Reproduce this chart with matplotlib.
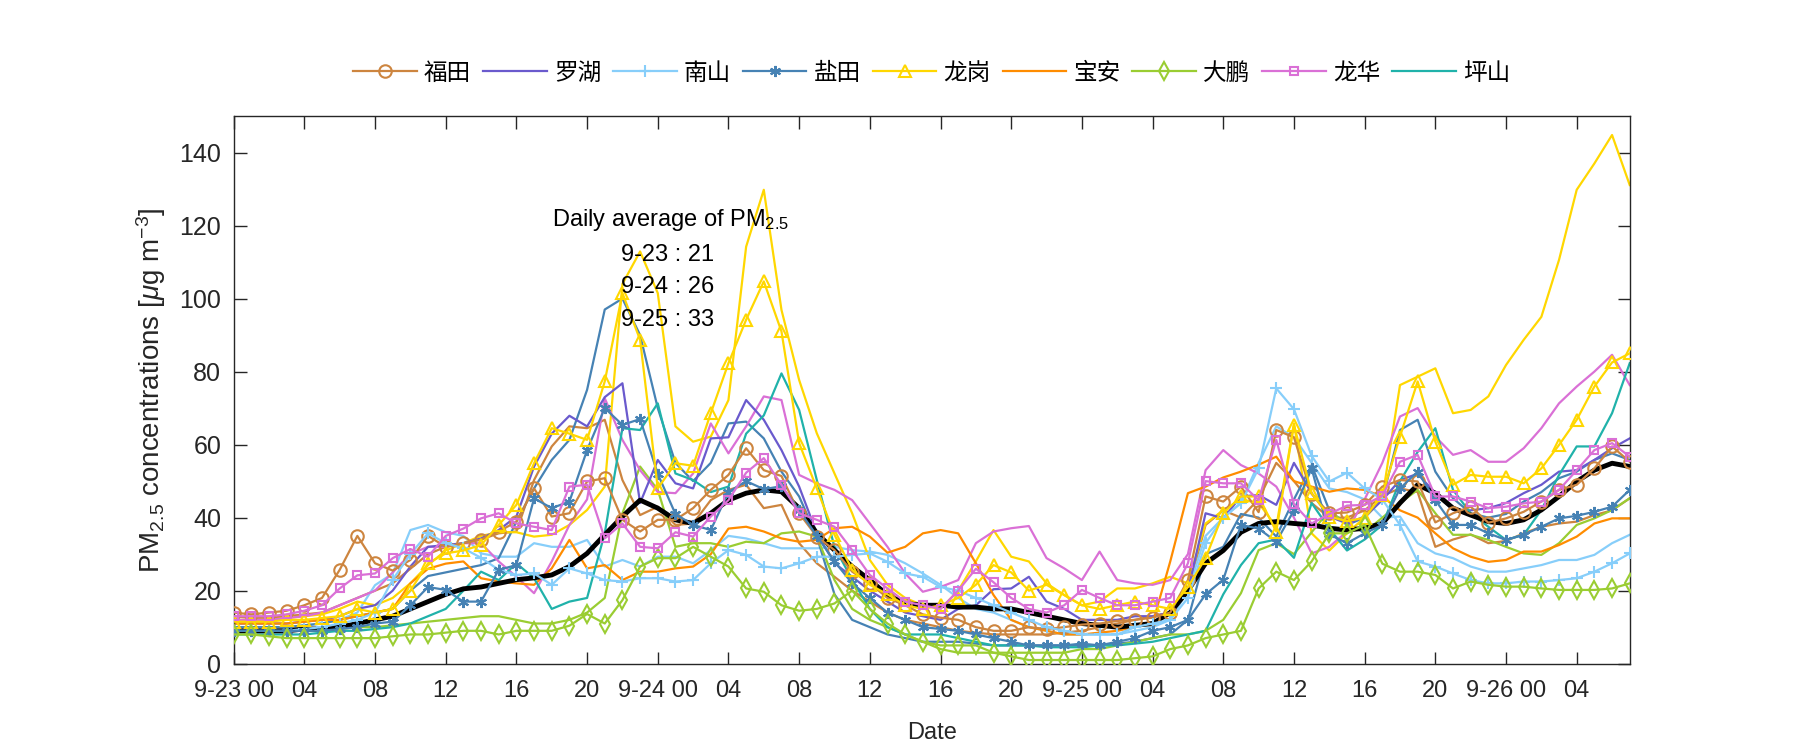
import matplotlib
matplotlib.use('Agg')
import matplotlib.pyplot as plt
import numpy as np

plt.rcParams['font.family'] = ['Liberation Sans', 'Noto Sans CJK SC']
plt.rcParams['mathtext.fontset'] = 'custom'
plt.rcParams['mathtext.rm'] = 'Liberation Sans'
plt.rcParams['mathtext.it'] = 'Liberation Sans:italic'

hours = np.arange(80)

# hourly PM2.5, 9-23 00 .. 9-26 07
avg = [9, 9, 9, 9, 9.5, 9.5, 10, 11, 12, 13,
       15, 17, 19, 20.5, 21, 22, 23, 23.5, 24.3, 26.6,
       30.2, 35.3, 40.3, 44.8, 42.6, 39.4, 38.4, 41.2, 44.8, 46.7,
       47.6, 47.1, 42.6, 35.7, 31.1, 26.6, 22.9, 18.8, 16.5, 16,
       16, 15.5, 15.5, 15, 15, 14, 13, 12, 11, 10.5,
       10, 10.5, 11, 14, 20, 27.5, 31, 36, 38.4, 38.9,
       38.4, 38, 37.1, 36.6, 37.1, 38.4, 44, 49, 46.7, 42.6,
       40.7, 38.9, 38.4, 39.4, 42.1, 45.8, 49.9, 53, 54.9, 54]

futian = [14, 13.5, 14, 14.5, 16, 18, 25.7, 35, 27.5, 25.5,
          28.4, 35, 32, 33, 34, 36.2, 38.9, 48, 40.3, 41.2,
          49.9, 50.8, 39.4, 36.2, 39.4, 39.4, 42.6, 47.6, 51.7, 59,
          53, 51.4, 41.2, 34.8, 31.1, 25.2, 22, 18, 16, 13.5,
          12.6, 12, 10, 9, 9, 10, 9.5, 10, 10.7, 11,
          11.7, 12, 12.6, 14, 22.9, 45.8, 44.4, 48.5, 41.5, 64,
          62, 46.5, 41.2, 41.4, 43.5, 48.5, 50.3, 49.9, 38.7, 41.2,
          43, 38.6, 39.8, 41.6, 44.4, 47.6, 49, 53.5, 59.5, 55.3]
futian_2 = [13, 12.5, 12.5, 13, 13.5, 14, 16, 18, 20, 22,
            26, 30, 32, 33, 34, 35.7, 36.2, 50.3, 59.5, 65,
            64.5, 66.8, 50.3, 40.7, 43, 38, 38.4, 44.8, 47.6, 49,
            42.6, 43.5, 33, 27.5, 23.8, 20, 17, 14, 12, 11,
            10, 9, 8.5, 8, 8, 8, 8, 8.5, 9, 10,
            11, 12, 13, 14, 20, 38, 42, 40, 45, 55,
            50, 44, 40, 40, 42, 46, 48, 47, 32, 34,
            35.4, 33, 33.6, 35.7, 37.5, 38.4, 38.9, 40.7, 42, 45.3]
luohu = [11, 11, 11, 11, 11.5, 12, 13, 15, 16, 20,
         26.6, 32, 32.5, 33, 34.3, 36.6, 40.3, 54, 63, 67.9,
         65, 73, 76.8, 44, 55.8, 49.4, 48, 61.7, 62, 72.2,
         66.8, 58.5, 48.5, 35.7, 27.5, 23.8, 20, 17, 14, 13,
         12, 15, 16, 20.4, 20.6, 23.8, 17, 15, 12, 12,
         12, 13, 13, 14, 20, 41.2, 39.8, 45.8, 46.2, 43.5,
         55, 46.7, 40.3, 38.4, 40.3, 44.8, 50.3, 52, 46.7, 42.1,
         42, 42.6, 44, 46.7, 49, 52.6, 53, 55.8, 59, 61.7]
nanshan = [9, 9, 9, 9, 9.5, 10, 11, 12, 14, 23,
           30, 35.7, 33, 31.6, 29, 25.7, 24.3, 24.7, 21.6, 26.1,
           24.7, 22.9, 22.5, 23.4, 23.4, 22.5, 22.9, 27.5, 31.1, 29.8,
           26.6, 26.1, 27.5, 29.3, 29.3, 29.8, 30.2, 27.9, 24.7, 23.8,
           21, 20, 18, 16, 14, 12, 10, 9, 8, 8,
           8, 10, 11, 12, 18, 33, 40, 44, 53.5, 75.4,
           69.7, 56.9, 49.9, 52.3, 48, 45, 38, 28, 26.6, 24.7,
           22.9, 22, 22, 22.5, 22.5, 22.9, 23.4, 25.2, 27.5, 30.2]
nanshan_2 = [10, 10, 10, 10, 10.5, 11, 12, 14, 21.5, 24.7,
             36.6, 38, 36, 35, 30.2, 29.3, 29.3, 33, 32, 32,
             33.9, 26.6, 28.4, 26.6, 29.3, 29.3, 27.5, 31.1, 35, 34.3,
             33, 31.6, 31.6, 31.6, 32, 31.1, 30.7, 29.8, 27.5, 24.7,
             21.6, 18, 15, 14, 12, 10, 9, 8, 8, 8,
             8, 9, 10, 12, 20, 35, 40, 44, 55, 65,
             62, 55, 48, 47, 45, 40, 40.3, 33, 30.2, 28.9,
             26.6, 25.2, 25.2, 26.1, 27, 28.4, 28.4, 29.8, 33, 35.3]
yantian = [9, 9, 9, 9, 9, 9, 9.5, 10, 11, 11.5,
           16, 21, 20.2, 17, 17, 25.7, 27, 45.3, 42.6, 44.4,
           58.5, 70, 65.4, 67, 52, 41, 38, 36.6, 47, 50,
           47.8, 48.6, 42, 35, 28, 22, 18, 14, 12, 10,
           9.5, 9, 8, 7, 6, 5, 5, 5, 5.5, 5,
           6, 7, 9, 10, 12, 19, 23, 38, 37, 33.4,
           42, 53.5, 35.4, 33, 35.7, 38, 48, 52.6, 44.8, 38,
           38, 35.7, 33.9, 35.3, 37.5, 39.8, 40.5, 41.6, 43, 47.6]
yantian_2 = [10, 10, 10, 10, 10.5, 11, 12, 13, 14, 15,
             20, 24, 25, 26, 27, 28.9, 38.9, 48, 55.8, 61.3,
             75, 97, 100, 90, 70, 55, 50, 55, 65.8, 66.3,
             61.7, 52.6, 45.8, 34.8, 19, 12, 10, 8, 7, 6,
             6, 6, 5.5, 5, 5, 5, 5, 5, 5, 5,
             5.5, 6, 7, 8, 12, 30, 32, 41, 40, 34.8,
             45, 54.4, 42, 38, 40, 45, 64, 66.8, 52.6, 45.3,
             41.2, 40, 41, 44.4, 47, 50.8, 52.6, 55.8, 57.6, 55.8]
longgang = [11.5, 11.5, 11.5, 12, 12, 12.5, 13, 15, 14, 15,
            20, 27.5, 30.2, 31, 32.5, 38, 43.5, 54.9, 64.5, 63,
            61.3, 77.3, 101.5, 88.7, 48, 54.9, 54.2, 68.6, 82.3, 94.2,
            104.7, 91, 60.4, 48, 35.3, 25.7, 21.6, 19, 16, 15,
            16, 18, 21.6, 27, 25, 20, 21.6, 18.8, 16, 15,
            16, 17, 16, 15, 21, 28.9, 41.2, 45.8, 45.8, 36.2,
            65.4, 46.7, 40.3, 39, 40, 46.2, 62.2, 77.3, 60.8, 49,
            51.7, 51.2, 51.2, 49.4, 53.5, 59.9, 66.8, 75.9, 82.5, 85]
longgang_2 = [12, 12, 12, 12.5, 13, 13.5, 15, 17, 16, 18,
              22, 27, 31, 33, 35, 36, 36, 34.8, 35.3, 38,
              42.1, 48.5, 104, 112.9, 101.5, 65, 60.8, 62.2, 72.2, 114.2,
              129.8, 96.9, 77.7, 63.1, 52.1, 41.2, 28.4, 21.6, 18, 16,
              15, 20, 28, 36.6, 29.3, 28, 22, 18.8, 16, 17,
              20.6, 20.6, 22, 23.8, 22, 38.4, 42, 45, 44, 37.5,
              65.8, 35.7, 31, 35.7, 40, 45.3, 76.3, 78.6, 80.9, 68.6,
              69.5, 73.2, 81.8, 88.7, 95, 110.6, 129.8, 137, 144.8, 131.1]
baoan = [11, 11, 11, 11, 11.5, 12, 12, 13, 14, 15,
         22, 26, 27.4, 28, 23.4, 22.5, 22, 21.6, 26.1, 33.9,
         26.1, 27, 22.9, 25.2, 25.2, 26.1, 26.6, 30, 37, 37.5,
         36.2, 34.3, 33.4, 33.9, 37.1, 37.5, 34.8, 30.4, 32, 35.7,
         36.6, 35.7, 27.5, 18.8, 12, 10, 9, 8, 8, 8.5,
         9, 10, 11, 28, 46.7, 48.5, 51, 52.6, 54.5, 56.7,
         50, 48.5, 47.1, 48, 47.6, 45.8, 42, 40, 35.7, 31.6,
         29.3, 27.9, 28.4, 30.7, 30.7, 32.5, 34.8, 38.4, 39.8, 39.8]
dapeng = [8, 8, 7.5, 7, 7, 7, 7, 7, 7, 7.5,
          8, 8, 8.5, 9, 9, 8, 9, 9, 9, 10.4,
          13.6, 11, 17.4, 26.6, 28.9, 28.9, 32, 29.3, 26.6, 20.6,
          19.7, 16, 14.5, 15, 16.5, 20, 15, 11, 8, 6,
          5, 5, 5, 3, 2, 1, 1, 1, 1, 1,
          1, 1.5, 2, 4, 5, 7, 8, 9, 20.6, 25.2,
          22.9, 28, 35.7, 35.7, 38, 27.4, 25.2, 25.2, 24.3, 20.6,
          22.5, 21.6, 21.1, 21.1, 20.6, 20.2, 20.2, 20.2, 20.6, 22]
dapeng_2 = [9, 9, 9, 9, 9, 9, 9.5, 10, 10, 10.5,
            11, 11.5, 12, 12.5, 13, 13, 12, 11, 11, 12,
            14, 18, 41.2, 54, 47.6, 32, 33, 33, 32, 33.4,
            33, 35.7, 36.2, 34.8, 22.9, 15, 12, 10, 8, 6,
            4, 3, 3, 3, 3, 3, 3, 3, 4, 4,
            5, 6, 7, 8, 8, 9, 12, 19.3, 31.1, 33,
            30, 36, 42, 38, 36, 40, 44, 47.6, 41.2, 35.3,
            35.3, 33.9, 32, 30.2, 29.8, 33, 38, 39.8, 42.1, 45.3]
longhua = [13, 13, 13, 13.5, 14.5, 16, 20.6, 24.2, 24.7, 28.9,
           31.4, 29.3, 35, 37, 39.8, 41.2, 38.4, 37.5, 36.6, 48.5,
           49, 34.3, 38.4, 32, 31.6, 36, 34.8, 40.3, 44.8, 52.3,
           56.3, 49, 41.2, 39.4, 37.5, 31.1, 24.3, 20.6, 17, 16,
           15, 20, 26, 22.3, 18, 15, 14, 16, 20.2, 18,
           16, 16, 17, 18, 27.5, 50, 49.4, 49.4, 44.8, 61.3,
           43.7, 38.4, 41, 43.3, 43.5, 46, 55.3, 57.2, 45.8, 45.8,
           44.4, 42.6, 43, 43.9, 44.4, 47.6, 53, 58.5, 60.4, 56.7]
longhua_2 = [12, 12, 12, 12.5, 13, 14, 16, 18, 20, 25,
             30, 32, 32, 33, 33, 28, 23.8, 19.3, 28, 38,
             45, 72.7, 61.3, 53, 47, 46.7, 52.1, 65.8, 57.6, 65,
             73.2, 72.2, 51.7, 49.4, 47.6, 44.8, 38.4, 32, 24.7, 19.7,
             21, 22.9, 33, 36.2, 37.1, 37.7, 28.9, 26.1, 22.9, 30.7,
             22.9, 22, 21.6, 22.9, 30, 53, 58.5, 54.4, 52.1, 48.5,
             40, 30.2, 32, 36.2, 45, 55, 67.7, 70, 62.2, 57.2,
             58.5, 55.3, 55.3, 59, 64.5, 71.3, 75.9, 80, 84.6, 76.3]
pingshan = [8, 8, 8, 8, 8, 8.5, 9, 9, 9.5, 10,
            11, 13, 15, 20, 25.2, 22.9, 27.5, 23.4, 15, 17,
            18, 35.7, 64.5, 64, 71.3, 52.1, 50.3, 47, 48.5, 63,
            68, 79.5, 69.5, 50.3, 32, 23, 15, 10, 8, 8,
            8, 7, 6, 5, 5, 5, 4.5, 4.5, 4.5, 5,
            5, 5.5, 6, 7, 8, 9, 19, 27, 33, 34,
            29, 44, 37, 31, 34, 38, 50, 58, 64.5, 47.6,
            41.2, 37.5, 33.9, 35.3, 42.1, 51.7, 59.5, 59.5, 68.6, 82.3]

names = ['福田', '罗湖', '南山', '盐田', '龙岗', '宝安', '大鹏', '龙华', '坪山']
colors = ['#CD853F', '#6A5ACD', '#87CEFA', '#4682B4', '#FFD700',
          '#FF8C00', '#9ACD32', '#DA70D6', '#20B2AA']
main_series = [futian, luohu, nanshan, yantian, longgang, baoan, dapeng, longhua, pingshan]
second_series = [futian_2, None, nanshan_2, yantian_2, longgang_2, None, dapeng_2, longhua_2, None]
markers = ['o', None, '+', (6, 2, 0), '^', None, 'd', 's', None]
msizes = [9, 0, 8, 8, 9, 0, 9, 6, 0]

daily = ['9-23 : 21', '9-24 : 26', '9-25 : 33']

fig = plt.figure(figsize=(18, 7.5), dpi=100)
ax = fig.add_axes([0.1298, 0.1151, 0.7756, 0.7302])

# plain companion lines first
for s2, c in zip(second_series, colors):
    if s2 is not None:
        ax.plot(hours, s2, color=c, lw=1.6, zorder=2)

ax.plot(hours, avg, color='black', lw=3.5, zorder=2.5)

handles = []
for name, s, c, m, ms in zip(names, main_series, colors, markers, msizes):
    if m is None:
        h, = ax.plot(hours, s, color=c, lw=1.6, zorder=2, label=name)
    else:
        h, = ax.plot(hours, s, color=c, lw=1.6, marker=m, ms=ms, mfc='none',
                     mec=c, mew=1.5, zorder=3, label=name)
    handles.append(h)

ax.set_xlim(0, 79)
ax.set_ylim(0, 150)
ticks = list(range(0, 80, 4))
labels = []
for t in ticks:
    if t % 24 == 0:
        labels.append('9-%d 00' % (23 + t // 24))
    else:
        labels.append('%02d' % (t % 24))
ax.set_xticks(ticks)
ax.set_xticklabels(labels)
ax.set_yticks(range(0, 141, 20))

ax.tick_params(direction='in', top=True, right=True, length=9, width=1,
               colors='#262626')
ax.tick_params(axis='x', labelsize=17, pad=12)
ax.tick_params(axis='y', labelsize=18, pad=9)
for sp in ax.spines.values():
    sp.set_color('#262626')
    sp.set_linewidth(1)

ax.set_xlabel('Date', fontsize=17, color='#262626', labelpad=14)
ax.set_ylabel('PM$_{2.5}$ concentrations [$\\mu$g m$^{-3}$]', fontsize=20,
              color='#262626', labelpad=8)

ax.text(18, 120, 'Daily average of PM$_{2.5}$', fontsize=17, ha='left', va='baseline')
for i, d in enumerate(daily):
    ax.text(21.9, 110.2 - 8.8 * i, d, fontsize=17, ha='left', va='baseline')

ax.legend(handles=handles, loc='lower center', bbox_to_anchor=(0.5, 1.04), ncol=9,
          frameon=False, fontsize=17, handlelength=2.7, handletextpad=0.3,
          columnspacing=0.5, borderaxespad=0)

fig.savefig('out.png', dpi=100)
